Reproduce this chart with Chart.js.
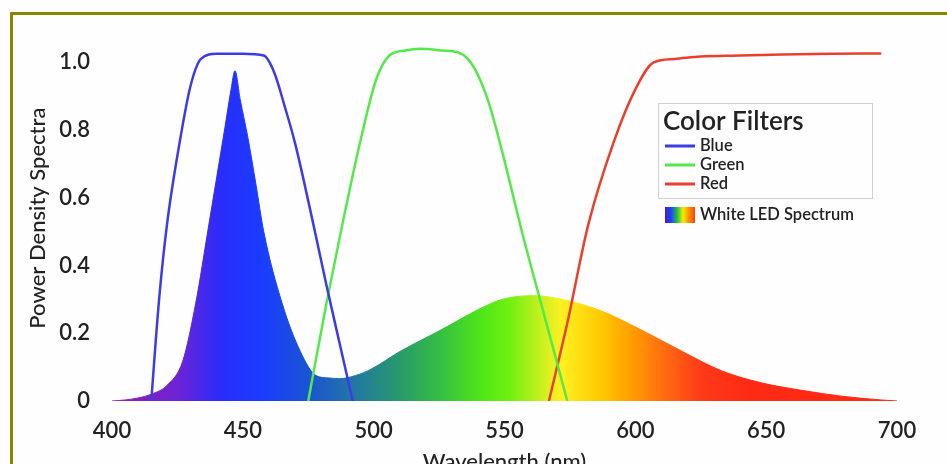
<!DOCTYPE html>
<html>
<head>
<meta charset="utf-8">
<script src="https://cdn.jsdelivr.net/npm/chart.js@4"></script>
<style>
  html, body { margin: 0; padding: 0; background: #fefefe; overflow: hidden; }
  #wrap { position: relative; width: 947px; height: 464px; overflow: hidden; }
  #frame { position: absolute; left: 10px; top: 12px; right: 0; bottom: 0;
           border-left: 3px solid #888800; border-top: 3px solid #888800; pointer-events: none; }
</style>
</head>
<body>
<div id="wrap">
  <canvas id="spectrumChart" width="947" height="480"></canvas>
  <div id="frame"></div>
</div>
<script>
// filter transmission curves (wavelength in nm, relative value)
const blueNm  = [415, 418, 421, 426, 430, 434, 440, 450, 458, 462, 466, 470, 477, 482, 487, 492];
const blueVal = [0, 0.3, 0.52, 0.77, 0.93, 1.01, 1.025, 1.025, 1.02, 0.97, 0.87, 0.76, 0.52, 0.34, 0.17, 0];

const greenNm  = [475, 482, 488, 495, 501, 506, 512, 518, 526, 532, 536, 540, 544, 549, 557, 566, 574];
const greenVal = [0, 0.29, 0.52, 0.77, 0.95, 1.02, 1.035, 1.04, 1.035, 1.03, 1.01, 0.96, 0.88, 0.74, 0.49, 0.23, 0];

const redNm  = [567, 574, 582, 592, 600, 607, 615, 625, 640, 656, 675, 694];
const redVal = [0, 0.23, 0.52, 0.77, 0.92, 1.0, 1.01, 1.017, 1.02, 1.023, 1.025, 1.026];

// white LED emission spectrum
const ledNm  = [400, 405, 410, 415, 421, 427, 432, 437, 440, 443, 445.5, 447, 449, 452, 455, 458, 465, 472, 478,
                483, 487, 493, 499, 510, 526, 540, 549, 561, 572, 587, 602, 618, 633, 648, 664, 679, 694, 700];
const ledVal = [0, 0.003, 0.009, 0.02, 0.046, 0.117, 0.289, 0.52, 0.66, 0.8, 0.92, 0.975, 0.89, 0.775, 0.64, 0.5,
                0.289, 0.146, 0.075, 0.068, 0.066, 0.075, 0.094, 0.146, 0.211, 0.27, 0.3, 0.311, 0.3, 0.266,
                0.211, 0.146, 0.089, 0.054, 0.031, 0.014, 0.003, 0];

const xTicks = [400, 450, 500, 550, 600, 650, 700];
const yTicks = [0, 0.2, 0.4, 0.6, 0.8, 1.0];

// colour of the spectrum fill along the wavelength axis
const rainbowNm = [400, 407, 426, 441, 457, 476, 491, 510, 526, 541, 552, 564, 572, 587, 598, 610, 625, 644, 700];
const rainbowColor = ['#8a1eb8', '#8a1eb8', '#6a24d8', '#2a2cfa', '#1a3cff', '#1a56d0', '#2274a8', '#289a6a',
                      '#36c040', '#4ee618', '#70f010', '#c8f020', '#fff020', '#ffc800', '#ffa000', '#ff7010',
                      '#ff3a18', '#ff2a14', '#ff2a14'];

const FONT = 'Lato, "DejaVu Sans", sans-serif';

const toPoints = (xs, ys) => xs.map((x, i) => ({ x: x, y: ys[i] }));

function spectrumFill(context) {
    const chart = context.chart;
    const x = chart.scales.x;
    if (!chart.chartArea || !x) return '#ff8000';
    const g = chart.ctx.createLinearGradient(x.getPixelForValue(400), 0, x.getPixelForValue(700), 0);
    rainbowNm.forEach((nm, i) => g.addColorStop((nm - 400) / 300, rainbowColor[i]));
    return g;
}

// legend box drawn inside the plot
const filterLegend = {
    id: 'filterLegend',
    afterDraw(chart) {
        const c = chart.ctx;
        c.save();
        c.strokeStyle = '#d0d0d0';
        c.lineWidth = 1;
        c.strokeRect(658.5, 103.5, 214, 95);
        c.fillStyle = '#222';
        c.textBaseline = 'alphabetic';
        c.font = '600 26px ' + FONT;
        c.fillText('Color Filters', 663, 130);
        c.font = '600 16.5px ' + FONT;
        c.textBaseline = 'middle';
        const rows = [146, 165, 184];
        chart.data.datasets.slice(0, 3).forEach((ds, i) => {
            c.strokeStyle = ds.borderColor;
            c.lineWidth = 3;
            c.beginPath();
            c.moveTo(665, rows[i]);
            c.lineTo(695, rows[i]);
            c.stroke();
            c.fillStyle = '#222';
            c.fillText(ds.label, 700, rows[i]);
        });
        const g = c.createLinearGradient(665, 0, 695, 0);
        ['#4020c8', '#2040ff', '#20c040', '#f0f000', '#ff9000', '#ff4010'].forEach((col, i, a) => g.addColorStop(i / (a.length - 1), col));
        c.fillStyle = g;
        c.fillRect(665, 207, 30, 16);
        c.fillStyle = '#222';
        c.fillText(chart.data.datasets[3].label, 700, 215);
        c.restore();
    }
};

const lineStyle = {
    borderWidth: 2.5,
    pointRadius: 0,
    tension: 0.35,
    cubicInterpolationMode: 'monotone',
    fill: false
};

const ctx = document.getElementById('spectrumChart').getContext('2d');
const spectrumChart = new Chart(ctx, {
    type: 'line',
    data: {
        datasets: [
            Object.assign({ label: 'Blue', data: toPoints(blueNm, blueVal), borderColor: '#3c3ce6' }, lineStyle),
            Object.assign({ label: 'Green', data: toPoints(greenNm, greenVal), borderColor: '#55e84a' }, lineStyle),
            Object.assign({ label: 'Red', data: toPoints(redNm, redVal), borderColor: '#e8402c' }, lineStyle),
            {
                label: 'White LED Spectrum',
                data: toPoints(ledNm, ledVal),
                borderColor: spectrumFill,
                backgroundColor: spectrumFill,
                borderWidth: 1,
                pointRadius: 0,
                tension: 0.35,
                cubicInterpolationMode: 'monotone',
                fill: 'origin'
            }
        ]
    },
    options: {
        responsive: false,
        animation: false,
        layout: { padding: { left: 0, right: 50, top: 25, bottom: 0 } },
        plugins: {
            legend: { display: false },
            tooltip: { enabled: false }
        },
        scales: {
            x: {
                type: 'linear',
                min: 400,
                max: 700,
                grid: { display: false, drawTicks: false },
                border: { display: false },
                afterBuildTicks: (scale) => { scale.ticks = xTicks.map(v => ({ value: v })); },
                afterFit: (scale) => { scale.height = 79; },
                ticks: {
                    color: '#222',
                    padding: 17,
                    font: { family: FONT, size: 22, weight: '600' },
                    callback: (v) => String(v)
                },
                title: {
                    display: true,
                    text: 'Wavelength (nm)',
                    color: '#222',
                    font: { family: FONT, size: 22, weight: '500' },
                    padding: { top: 0, bottom: 5 }
                }
            },
            y: {
                min: 0,
                max: 1.08,
                grid: { display: false, drawTicks: false },
                border: { display: false },
                afterBuildTicks: (scale) => { scale.ticks = yTicks.map(v => ({ value: v })); },
                afterFit: (scale) => { scale.width = 112; },
                ticks: {
                    color: '#222',
                    padding: 22,
                    font: { family: FONT, size: 22, weight: '600' },
                    callback: (v) => v === 0 ? '0' : v.toFixed(1)
                },
                title: {
                    display: true,
                    text: 'Power Density Spectra',
                    color: '#222',
                    font: { family: FONT, size: 22, weight: '500' },
                    padding: { top: 25, bottom: 0 }
                }
            }
        }
    },
    plugins: [filterLegend]
});
</script>
</body>
</html>
